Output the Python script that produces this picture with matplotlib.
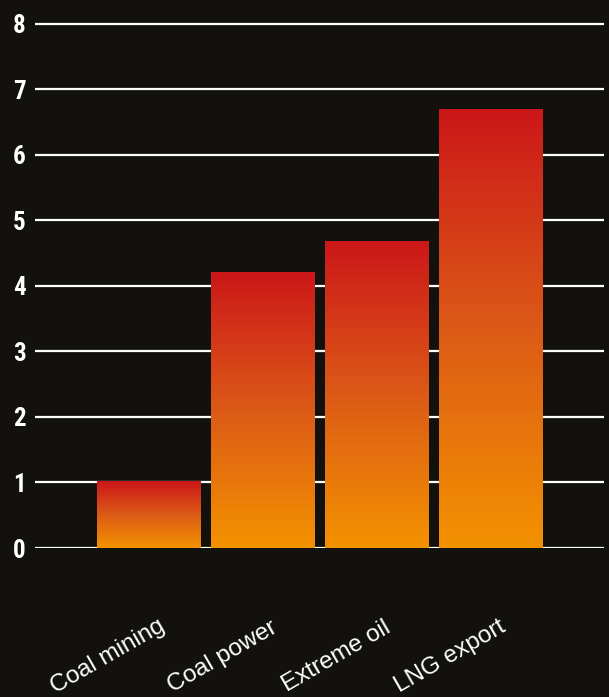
import matplotlib
matplotlib.use("Agg")
import matplotlib.pyplot as plt
import numpy as np
from matplotlib.colors import LinearSegmentedColormap

# Data
categories = ["Coal mining", "Coal power", "Extreme oil", "LNG export"]
values = [1.02, 4.2, 4.68, 6.7]
yticks = [0, 1, 2, 3, 4, 5, 6, 7, 8]

bg = "#12110d"
cmap = LinearSegmentedColormap.from_list("grad", ["#f39200", "#dc5a17", "#cc1719"])

fig = plt.figure(figsize=(6.09, 6.97), dpi=100, facecolor=bg)
ax = fig.add_axes([35 / 609, 1 - 548 / 697, (604 - 35) / 609, (548 - 22) / 697])
ax.set_facecolor(bg)

# grid lines behind bars
for t in yticks:
    ax.axhline(t, color="white", lw=1.6, zorder=1)

x = np.arange(len(categories))
width = 0.91
grad = np.linspace(1, 0, 256).reshape(-1, 1)
for xi, v in zip(x, values):
    ax.imshow(grad, cmap=cmap, aspect="auto", zorder=2,
              extent=[xi - width / 2, xi + width / 2, 0, v], vmin=0, vmax=1)

ax.set_xlim(-1.0, 3.99)
ax.set_ylim(0, 8.03)

for s in ax.spines.values():
    s.set_visible(False)

ax.set_yticks(yticks)
ax.set_yticklabels([str(t) for t in yticks], fontsize=18, fontweight="bold",
                   color="white",
                   family=["Roboto Condensed", "Roboto", "DejaVu Sans"])
ax.tick_params(axis="y", length=0, pad=6.5)

ax.set_xticks(x)
ax.set_xticklabels([])
ax.tick_params(axis="x", length=0)
for xi, lab in zip(x, categories):
    ax.annotate(lab, xy=(xi, 0), xycoords="data", xytext=(-38, -114),
                textcoords="offset pixels", rotation=30, rotation_mode="anchor",
                ha="center", va="baseline", color="white", fontsize=17.5,
                family=["Liberation Sans", "DejaVu Sans"])

fig.savefig("out.png", dpi=100, facecolor=bg)
